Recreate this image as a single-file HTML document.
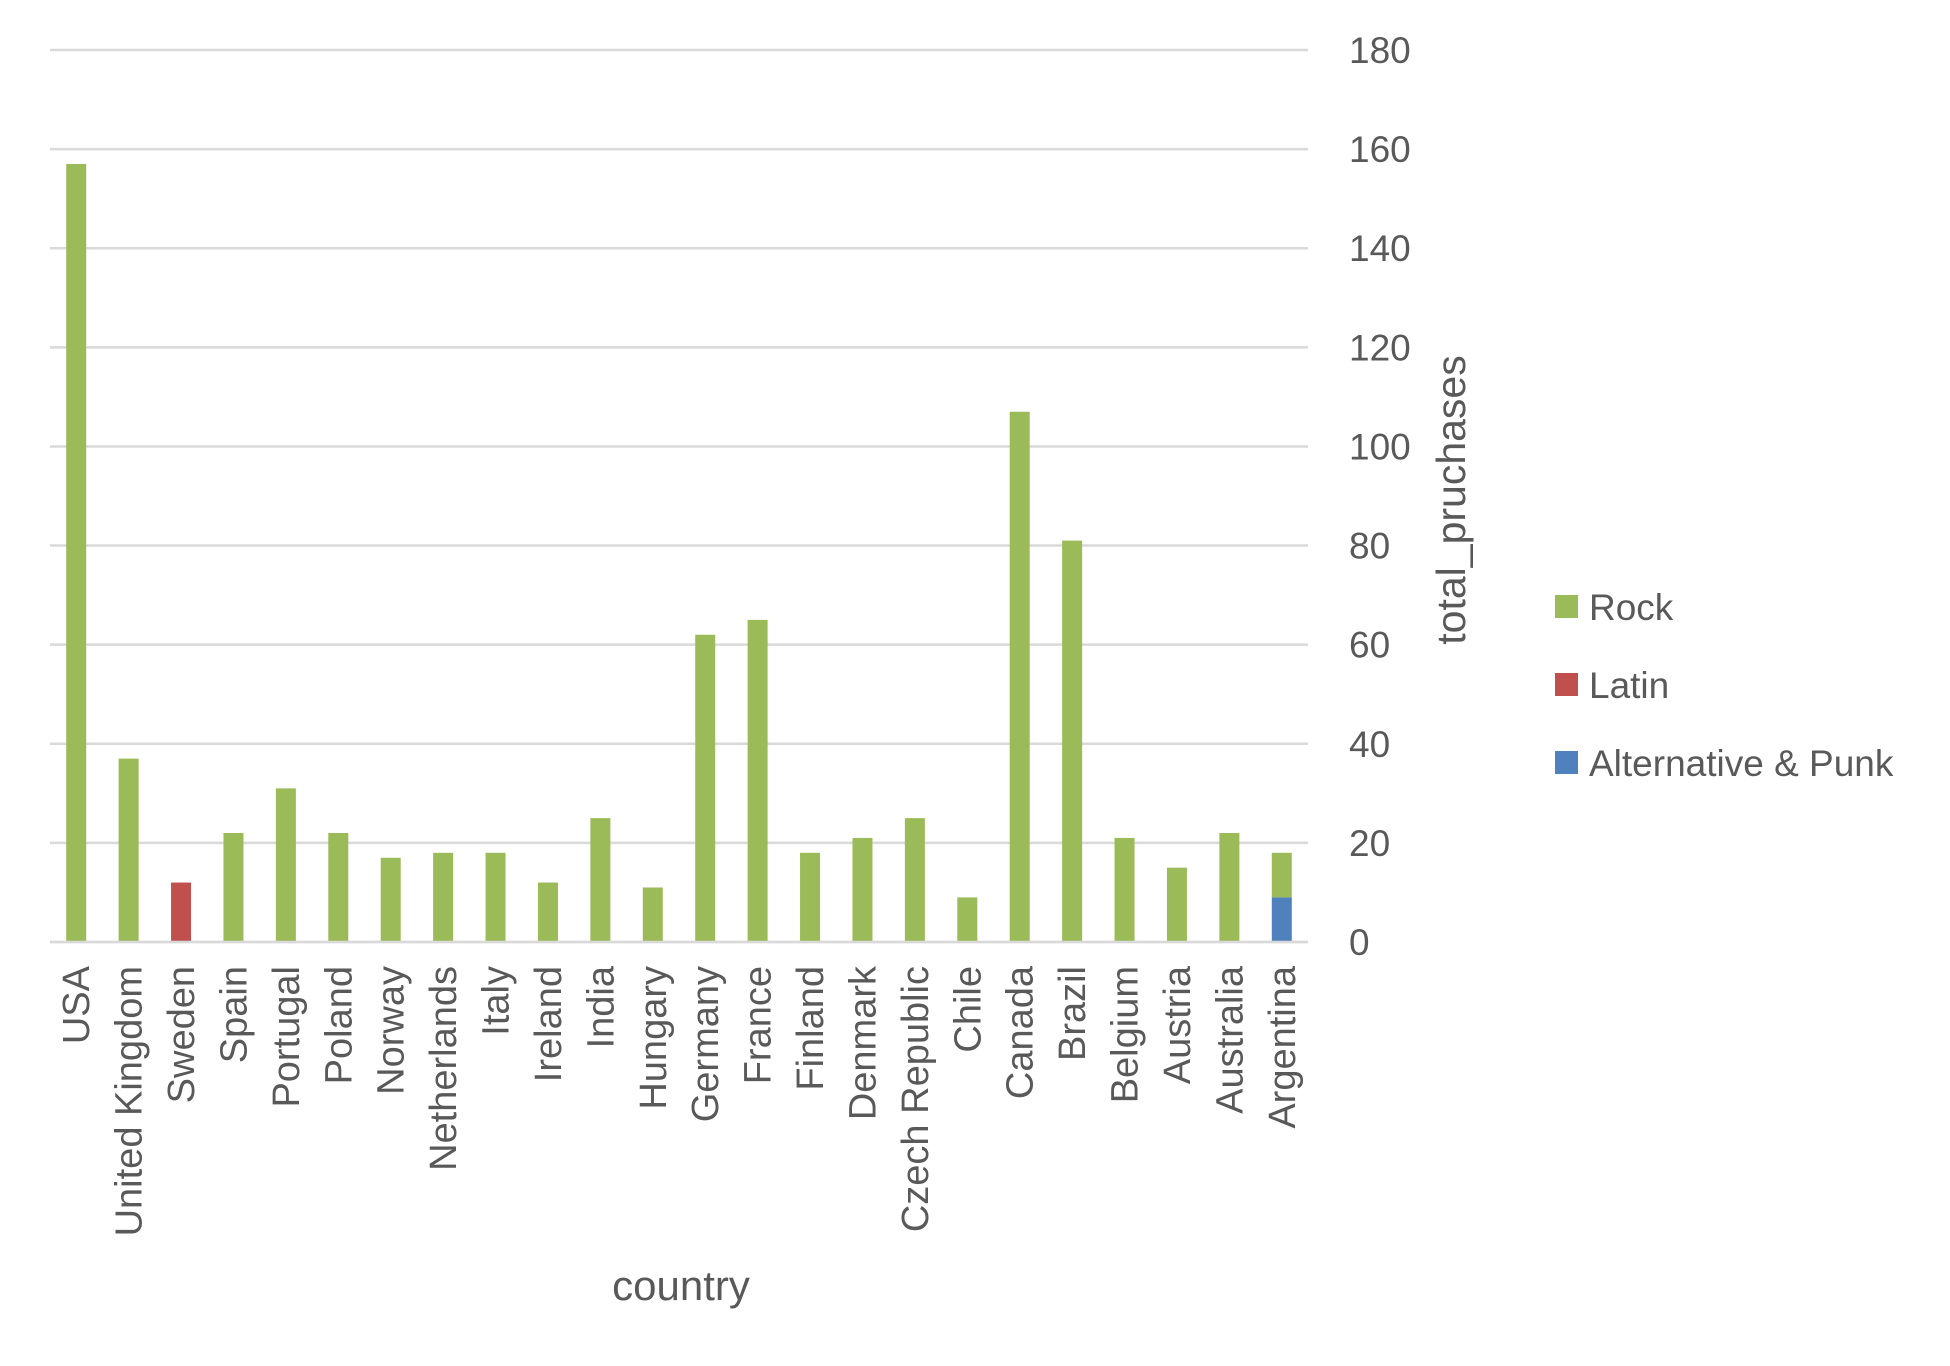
<!DOCTYPE html>
<html><head><meta charset="utf-8"><style>
body{margin:0;background:#fff;}
svg{display:block;font-family:"Liberation Sans",sans-serif;}
</style></head><body>
<svg id="chart" width="1950" height="1366"></svg>
<script>
const categories=["USA","United Kingdom","Sweden","Spain","Portugal","Poland","Norway","Netherlands","Italy","Ireland","India","Hungary","Germany","France","Finland","Denmark","Czech Republic","Chile","Canada","Brazil","Belgium","Austria","Australia","Argentina"];
const rock=[157,37,0,22,31,22,17,18,18,12,25,11,62,65,18,21,25,9,107,81,21,15,22,9];
const latin=[0,0,12,0,0,0,0,0,0,0,0,0,0,0,0,0,0,0,0,0,0,0,0,0];
const alt=[0,0,0,0,0,0,0,0,0,0,0,0,0,0,0,0,0,0,0,0,0,0,0,9];
const ticks=[0,20,40,60,80,100,120,140,160,180];
const NS="http://www.w3.org/2000/svg";
const svg=document.getElementById('chart');
const X0=50,X1=1308,Y0=942,Y1=50,MAX=180;
const bw=(X1-X0)/categories.length;
function y(v){return Y0-(v/MAX)*(Y0-Y1);}
function xc(i){return X0+bw*(i+0.5);}
function mk(t,a){const e=document.createElementNS(NS,t);for(const k in a)e.setAttribute(k,a[k]);svg.appendChild(e);return e;}
ticks.forEach(t=>{
 const l=mk('line',{x1:X0,x2:X1,y1:y(t),y2:y(t),stroke:'#d9d9d9','stroke-width':2.5});
 
 
 const tx=mk('text',{x:1349,y:y(t)+13,fill:'#595959','font-size':37});
 tx.textContent=t;
 
 
});
categories.forEach((c,i)=>{
 let base=0;
 [[alt,'#4f81bd','alt'],[latin,'#c0504d','latin'],[rock,'#9bbb59','rock']].forEach(s=>{
  const v=s[0][i]; if(!v)return;
  const r=mk('rect',{x:xc(i)-10,y:y(base+v),width:20,height:y(base)-y(base+v),fill:s[1]});
  
  
  base+=v;
 });
 const t=mk('text',{x:0,y:0,fill:'#595959','font-size':38,'text-anchor':'end',transform:`translate(${xc(i)+13},${Y0+24}) rotate(-90)`});
 t.textContent=c;
 
 
});
const ax=mk('line',{x1:X0,x2:X1,y1:Y0,y2:Y0,stroke:'#d9d9d9','stroke-width':2.5});


const xt=mk('text',{x:681,y:1300,fill:'#595959','font-size':42,'text-anchor':'middle'});
xt.textContent='country';


const yt=mk('text',{x:0,y:0,fill:'#595959','font-size':41,'text-anchor':'middle',transform:'translate(1465,500) rotate(-90)'});
yt.textContent='total_pruchases';


const leg=[['Rock','#9bbb59',607],['Latin','#c0504d',685],['Alternative & Punk','#4f81bd',763]];
leg.forEach(l=>{
 const r=mk('rect',{x:1555,y:l[2]-12,width:23,height:23,fill:l[1]});
 
 
 const t=mk('text',{x:1589,y:l[2]+13,fill:'#595959','font-size':37});
 t.textContent=l[0];
 
 
});
</script>
</body></html>
